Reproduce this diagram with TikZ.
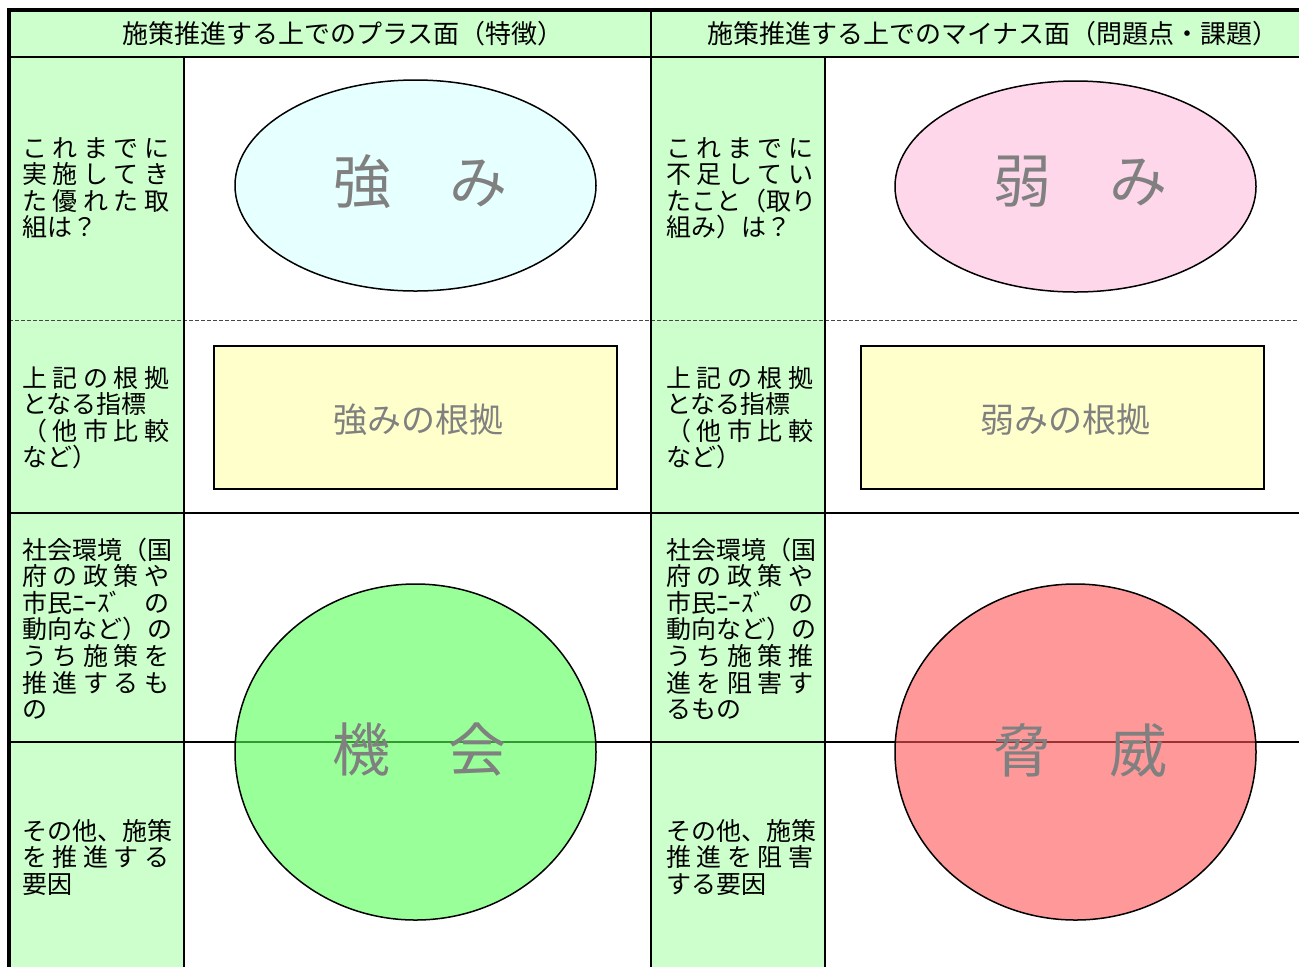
\documentclass[tikz,border=0pt]{standalone}
\usepackage{fontspec}
\usetikzlibrary{shapes.geometric}
\newfontfamily\jp{Noto Sans CJK JP}
\definecolor{lgreen}{RGB}{204,255,204}
\definecolor{lcyan}{RGB}{230,255,255}
\definecolor{lpink}{RGB}{255,215,235}
\definecolor{lyel}{RGB}{255,255,204}
\definecolor{cgreen}{RGB}{85,255,85}
\definecolor{cred}{RGB}{255,85,85}
\definecolor{tgray}{RGB}{128,128,128}
\definecolor{dgray}{RGB}{70,70,70}
\newcommand{\cellbox}[1]{\vtop{\baselineskip=13.3pt\lineskiplimit=-100pt\lineskip=0pt #1}}
\newcommand{\spl}[1]{\hbox to 73.5pt{#1}}
\newcommand{\nat}[1]{\hbox{#1}}
\tikzset{
  grid/.style={line width=1pt, black},
  dashline/.style={line width=0.5pt, dgray, dash pattern=on 2pt off 1pt},
  lbl/.style={anchor=base west, inner sep=0pt, font=\jp\fontsize{12.5pt}{13.3pt}\selectfont},
  hdr/.style={inner sep=0pt, font=\jp\fontsize{13pt}{14pt}\selectfont},
  bigshape/.style={ellipse, draw, line width=0.75pt, inner sep=0pt,
    minimum width=180.5pt},
  bigtext/.style={inner sep=0pt, text=tgray, font=\jp\fontsize{29pt}{30pt}\selectfont},
  midbox/.style={rectangle, draw, line width=1pt, fill=lyel, inner sep=0pt,
    minimum width=201.5pt, minimum height=71.5pt},
  midtext/.style={inner sep=0pt, text=tgray, font=\jp\fontsize{17pt}{18pt}\selectfont},
}
\begin{document}
\begin{tikzpicture}[x=0.5pt,y=-0.5pt]
\useasboundingbox (0,0) rectangle (1299,966);
\clip (0,0) rectangle (1299,966);
% fills
\fill[lgreen] (9,10) rectangle (1310,57);
\fill[lgreen] (9,57) rectangle (184,980);
\fill[lgreen] (651,57) rectangle (825,980);
% grid
\draw[dashline] (9,320) -- (1310,320);
\draw[grid] (9,57) -- (1310,57);
\draw[grid] (184,57) -- (184,980);
\draw[grid] (825,57) -- (825,980);
\draw[grid] (9,513) -- (1310,513);
\draw[grid] (9,742) -- (1310,742);
\draw[line width=1.25pt] (651,10) -- (651,980);
\draw[line width=2pt] (9,980) -- (9,10) -- (1310,10);
% headers
\node[hdr] (h1) at (343,33.5) {施策推進する上でのプラス面（特徴）};
\node[hdr] (h2) at (993,33.5) {施策推進する上でのマイナス面（問題点・課題）};
% shapes
\node[bigshape, fill=lcyan, minimum height=105.5pt] (s) at (415.5,185.5) {};
\node[bigshape, fill=lpink, minimum height=105.5pt] (w) at (1075.5,186.5) {};
\node[midbox] (sr) at (415.5,417.5) {};
\node[midbox] (wr) at (1062.5,417.5) {};
\node[bigshape, fill=cgreen, fill opacity=0.6, minimum height=168pt] (o) at (415.5,752) {};
\node[bigshape, fill=cred, fill opacity=0.6, minimum height=168pt] (t) at (1075.5,752) {};
% shape texts
\node[bigtext] (st) at (420,182) {強　み};
\node[bigtext] (wt) at (1080,182) {弱　み};
\node[midtext] (srt) at (418,420) {強みの根拠};
\node[midtext] (wrt) at (1065,420) {弱みの根拠};
\node[bigtext] (ot) at (419,750) {機　会};
\node[bigtext] (tt) at (1080,750) {脅　威};
% left labels
\node[lbl] (l1) at (22,157) {\cellbox{\spl{こ\hfill れ\hfill ま\hfill で\hfill に}\spl{実\hfill 施\hfill し\hfill て\hfill き}\spl{た\hfill 優\hfill れ\hfill た\hfill 取}\nat{組は？}}};
\node[lbl] (l2) at (22,387) {\cellbox{\spl{上\hfill 記\hfill の\hfill 根\hfill 拠}\nat{となる指標}\spl{（\hfill 他\hfill 市\hfill 比\hfill 較}\nat{など）}}};
\node[lbl] (l3) at (22,559) {\cellbox{\nat{社会環境（国}\spl{府\hfill の\hfill 政\hfill 策\hfill や}\spl{市民ﾆｰｽﾞ\hfill の}\nat{動向など）の}\spl{う\hfill ち\hfill 施\hfill 策\hfill を}\spl{推\hfill 進\hfill す\hfill る\hfill も}\nat{の}}};
\node[lbl] (l4) at (22,840) {\cellbox{\nat{その他、施策}\spl{を\hfill 推\hfill 進\hfill す\hfill る}\nat{要因}}};
% right labels
\node[lbl] (r1) at (666,157) {\cellbox{\spl{こ\hfill れ\hfill ま\hfill で\hfill に}\spl{不\hfill 足\hfill し\hfill て\hfill い}\nat{たこと（取り}\nat{組み）は？}}};
\node[lbl] (r2) at (666,387) {\cellbox{\spl{上\hfill 記\hfill の\hfill 根\hfill 拠}\nat{となる指標}\spl{（\hfill 他\hfill 市\hfill 比\hfill 較}\nat{など）}}};
\node[lbl] (r3) at (666,559) {\cellbox{\nat{社会環境（国}\spl{府\hfill の\hfill 政\hfill 策\hfill や}\spl{市民ﾆｰｽﾞ\hfill の}\nat{動向など）の}\spl{う\hfill ち\hfill 施\hfill 策\hfill 推}\spl{進\hfill を\hfill 阻\hfill 害\hfill す}\nat{るもの}}};
\node[lbl] (r4) at (666,840) {\cellbox{\nat{その他、施策}\spl{推\hfill 進\hfill を\hfill 阻\hfill 害}\nat{する要因}}};
\end{tikzpicture}
\end{document}
